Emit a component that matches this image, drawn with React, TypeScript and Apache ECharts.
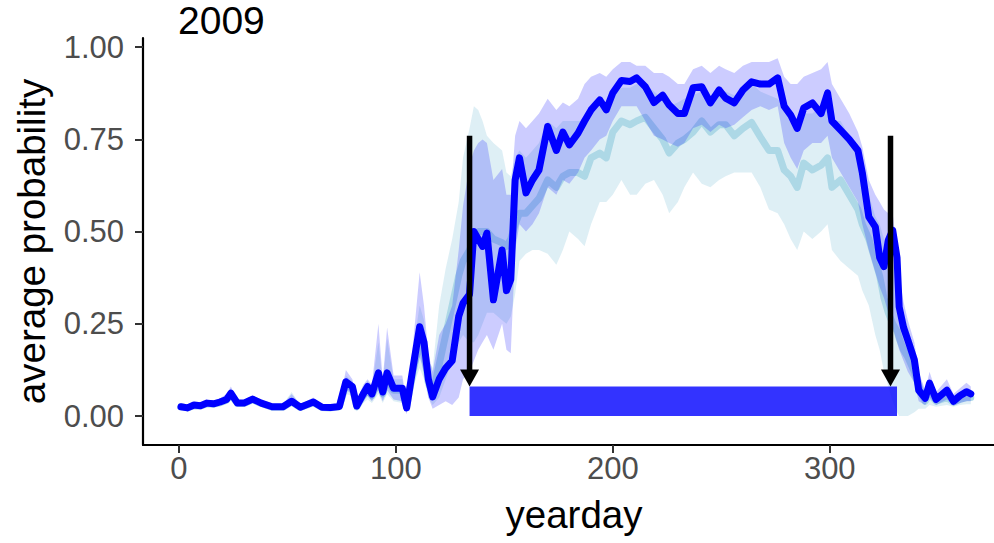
import React, { useEffect, useRef } from "react";
import * as echarts from "echarts";

// ---- data ----
const days = [1, 4, 7, 10, 13, 16, 19, 22, 24, 27, 30, 34, 38, 43, 48, 52, 56, 62, 66, 70, 74, 77, 80, 82, 85, 87, 89, 92, 94, 96, 99, 103, 105, 108, 111, 113, 115, 117, 120, 123, 126, 129, 131, 134, 136, 138, 140, 142, 145, 149, 151, 153, 155, 157, 160, 163, 166, 170, 174, 177, 180, 184, 187, 190, 194, 197, 200, 204, 208, 211, 215, 219, 223, 226, 230, 233, 237, 241, 245, 249, 252, 256, 260, 264, 268, 272, 276, 279, 282, 285, 288, 292, 296, 299, 301, 305, 309, 313, 315, 318, 321, 323, 325, 327, 329, 331, 332, 334, 336, 339, 341, 344, 346, 349, 354, 357, 360, 363, 365];

const blueMean = [0.025, 0.022, 0.03, 0.028, 0.035, 0.033, 0.038, 0.045, 0.062, 0.035, 0.035, 0.046, 0.035, 0.025, 0.025, 0.04, 0.024, 0.038, 0.024, 0.023, 0.026, 0.093, 0.08, 0.027, 0.06, 0.08, 0.06, 0.117, 0.065, 0.117, 0.075, 0.075, 0.022, 0.134, 0.242, 0.2, 0.1, 0.052, 0.1, 0.13, 0.15, 0.27, 0.306, 0.33, 0.5, 0.48, 0.46, 0.496, 0.315, 0.45, 0.34, 0.37, 0.64, 0.7, 0.605, 0.64, 0.667, 0.785, 0.72, 0.77, 0.735, 0.767, 0.8, 0.83, 0.857, 0.83, 0.876, 0.91, 0.907, 0.917, 0.893, 0.85, 0.87, 0.843, 0.82, 0.82, 0.89, 0.893, 0.849, 0.884, 0.862, 0.849, 0.884, 0.906, 0.9, 0.9, 0.917, 0.84, 0.816, 0.78, 0.835, 0.849, 0.82, 0.876, 0.8, 0.775, 0.75, 0.72, 0.66, 0.54, 0.513, 0.43, 0.405, 0.477, 0.504, 0.43, 0.296, 0.24, 0.206, 0.152, 0.07, 0.048, 0.089, 0.045, 0.07, 0.04, 0.055, 0.066, 0.06];
const blueLow = [0.018, 0.015, 0.022, 0.02, 0.026, 0.025, 0.03, 0.035, 0.045, 0.027, 0.028, 0.037, 0.028, 0.018, 0.018, 0.03, 0.017, 0.03, 0.017, 0.016, 0.018, 0.07, 0.06, 0.015, 0.04, 0.055, 0.04, 0.07, 0.04, 0.07, 0.045, 0.04, 0.005, 0.09, 0.16, 0.12, 0.05, 0.02, 0.03, 0.04, 0.03, 0.05, 0.1, 0.12, 0.15, 0.18, 0.2, 0.22, 0.18, 0.25, 0.18, 0.17, 0.45, 0.52, 0.5, 0.52, 0.55, 0.62, 0.6, 0.64, 0.63, 0.66, 0.7, 0.72, 0.75, 0.76, 0.8, 0.84, 0.84, 0.84, 0.8, 0.76, 0.75, 0.74, 0.73, 0.74, 0.78, 0.79, 0.77, 0.79, 0.78, 0.79, 0.81, 0.83, 0.84, 0.83, 0.84, 0.74, 0.7, 0.67, 0.72, 0.74, 0.74, 0.76, 0.7, 0.66, 0.62, 0.58, 0.52, 0.45, 0.39, 0.35, 0.32, 0.28, 0.24, 0.2, 0.18, 0.15, 0.12, 0.09, 0.04, 0.03, 0.05, 0.03, 0.045, 0.027, 0.035, 0.04, 0.04];
const blueHigh = [0.032, 0.03, 0.038, 0.036, 0.044, 0.042, 0.048, 0.06, 0.08, 0.045, 0.043, 0.055, 0.043, 0.032, 0.032, 0.06, 0.031, 0.05, 0.031, 0.03, 0.035, 0.125, 0.1, 0.04, 0.085, 0.1, 0.085, 0.25, 0.1, 0.24, 0.11, 0.11, 0.04, 0.2, 0.39, 0.3, 0.17, 0.12, 0.22, 0.25, 0.3, 0.45, 0.57, 0.68, 0.72, 0.74, 0.75, 0.74, 0.64, 0.67, 0.6, 0.6, 0.76, 0.8, 0.78, 0.8, 0.82, 0.86, 0.83, 0.85, 0.84, 0.86, 0.9, 0.92, 0.93, 0.92, 0.94, 0.96, 0.96, 0.95, 0.95, 0.93, 0.93, 0.92, 0.9, 0.9, 0.94, 0.95, 0.93, 0.95, 0.94, 0.93, 0.95, 0.96, 0.96, 0.96, 0.97, 0.92, 0.9, 0.9, 0.92, 0.93, 0.94, 0.96, 0.9, 0.86, 0.82, 0.77, 0.73, 0.64, 0.6, 0.58, 0.56, 0.55, 0.55, 0.45, 0.38, 0.31, 0.26, 0.2, 0.12, 0.07, 0.12, 0.065, 0.1, 0.06, 0.075, 0.09, 0.08];

const lightMean = [0.025, 0.022, 0.028, 0.027, 0.033, 0.032, 0.036, 0.043, 0.058, 0.034, 0.034, 0.044, 0.034, 0.024, 0.024, 0.038, 0.023, 0.036, 0.023, 0.022, 0.025, 0.085, 0.075, 0.025, 0.055, 0.07, 0.055, 0.1, 0.06, 0.1, 0.07, 0.07, 0.025, 0.12, 0.2, 0.17, 0.09, 0.06, 0.14, 0.22, 0.3, 0.38, 0.42, 0.45, 0.48, 0.5, 0.5, 0.5, 0.48, 0.47, 0.46, 0.48, 0.52, 0.55, 0.55, 0.57, 0.59, 0.64, 0.62, 0.65, 0.66, 0.66, 0.65, 0.7, 0.713, 0.7, 0.77, 0.8, 0.79, 0.8, 0.81, 0.78, 0.75, 0.713, 0.74, 0.75, 0.77, 0.8, 0.77, 0.79, 0.79, 0.76, 0.78, 0.796, 0.757, 0.72, 0.72, 0.667, 0.65, 0.62, 0.686, 0.667, 0.68, 0.7, 0.62, 0.64, 0.6, 0.56, 0.52, 0.48, 0.42, 0.38, 0.32, 0.28, 0.25, 0.23, 0.21, 0.18, 0.16, 0.12, 0.08, 0.04, 0.06, 0.04, 0.05, 0.038, 0.045, 0.05, 0.05];
const lightLow = [0.018, 0.015, 0.02, 0.02, 0.025, 0.024, 0.028, 0.033, 0.042, 0.025, 0.027, 0.035, 0.026, 0.017, 0.017, 0.028, 0.016, 0.028, 0.016, 0.015, 0.017, 0.06, 0.055, 0.012, 0.035, 0.045, 0.035, 0.06, 0.035, 0.06, 0.04, 0.035, 0.01, 0.08, 0.13, 0.1, 0.05, 0.03, 0.05, 0.1, 0.15, 0.2, 0.22, 0.2, 0.2, 0.22, 0.25, 0.28, 0.28, 0.26, 0.25, 0.27, 0.33, 0.42, 0.44, 0.45, 0.45, 0.44, 0.41, 0.45, 0.5, 0.48, 0.46, 0.52, 0.58, 0.58, 0.6, 0.64, 0.6, 0.6, 0.63, 0.64, 0.6, 0.55, 0.58, 0.62, 0.66, 0.63, 0.62, 0.64, 0.65, 0.66, 0.66, 0.66, 0.62, 0.56, 0.55, 0.52, 0.48, 0.45, 0.5, 0.48, 0.5, 0.52, 0.45, 0.42, 0.4, 0.38, 0.34, 0.3, 0.22, 0.18, 0.12, 0.08, 0.04, 0.01, 0.0, 0.0, 0.0, 0.01, 0.02, 0.02, 0.03, 0.025, 0.03, 0.025, 0.03, 0.032, 0.032];
const lightHigh = [0.03, 0.028, 0.035, 0.035, 0.042, 0.04, 0.045, 0.055, 0.075, 0.043, 0.042, 0.053, 0.042, 0.031, 0.031, 0.065, 0.03, 0.048, 0.03, 0.029, 0.033, 0.11, 0.095, 0.04, 0.08, 0.095, 0.08, 0.2, 0.09, 0.21, 0.1, 0.1, 0.045, 0.18, 0.3, 0.26, 0.15, 0.13, 0.3, 0.4, 0.48, 0.58, 0.7, 0.78, 0.84, 0.83, 0.8, 0.76, 0.74, 0.72, 0.66, 0.65, 0.7, 0.72, 0.7, 0.72, 0.74, 0.8, 0.78, 0.8, 0.8, 0.8, 0.8, 0.82, 0.84, 0.84, 0.87, 0.89, 0.89, 0.9, 0.9, 0.88, 0.86, 0.84, 0.85, 0.86, 0.87, 0.88, 0.87, 0.88, 0.88, 0.87, 0.88, 0.9, 0.88, 0.87, 0.86, 0.84, 0.82, 0.8, 0.82, 0.82, 0.84, 0.86, 0.8, 0.8, 0.76, 0.72, 0.66, 0.6, 0.54, 0.52, 0.48, 0.45, 0.42, 0.36, 0.33, 0.28, 0.24, 0.18, 0.12, 0.06, 0.09, 0.06, 0.075, 0.055, 0.065, 0.07, 0.068];

// season window (rectangle) and arrows: [x, yFrom, yTo]
const seasonRect = [[134, 331, 0, 0.08]];
const arrows = [[134, 0.76, 0.08], [328, 0.76, 0.08]];

const xTicks = [0, 100, 200, 300];
const yTicks = [0, 0.25, 0.5, 0.75, 1];

const FONT = "'Liberation Sans', Arial, Helvetica, sans-serif";

function ribbon(lo: number[], hi: number[], color: string, z: number) {
  return {
    type: "custom",
    coordinateSystem: "cartesian2d",
    data: days.map((d, i) => [d, lo[i], hi[i]]),
    encode: { x: 0, y: [1, 2] },
    silent: true,
    z,
    clip: true,
    renderItem: (params: any, api: any) => {
      if (params.dataIndex !== 0) return null;
      const top = days.map((d, i) => api.coord([d, hi[i]]));
      const bottom = days.map((d, i) => api.coord([d, lo[i]])).reverse();
      return {
        type: "polygon",
        shape: { points: top.concat(bottom) },
        style: { fill: color },
      };
    },
  };
}

export default function App() {
  const ref = useRef<HTMLDivElement>(null);
  useEffect(() => {
    if (!ref.current) return;
    const chart = echarts.init(ref.current, null, { renderer: "svg" });
    chart.setOption({
      animation: false,
      backgroundColor: "#ffffff",
      textStyle: { fontFamily: FONT },
      title: {
        text: "2009",
        left: 178,
        top: 1,
        padding: 0,
        textStyle: { fontFamily: FONT, fontSize: 39, fontWeight: "normal", color: "#000" },
      },
      grid: { left: 143, right: 0, top: 38, bottom: 98, containLabel: false },
      xAxis: {
        type: "value",
        min: -16.5,
        max: 375.7,
        name: "yearday",
        nameLocation: "middle",
        nameGap: 50,
        nameTextStyle: { fontFamily: FONT, fontSize: 38.5, color: "#000", padding: [0, 0, 0, 11] },
        axisLine: { onZero: false, lineStyle: { color: "#000", width: 2.2 } },
        axisTick: { show: true, length: 8, customValues: xTicks, lineStyle: { color: "#333", width: 2 } },
        axisLabel: { customValues: xTicks, margin: 8, fontSize: 31, color: "#4D4D4D", fontFamily: FONT },
        splitLine: { show: false },
      },
      yAxis: {
        type: "value",
        min: -0.0786,
        max: 1.025,
        name: "average probability",
        nameLocation: "middle",
        nameRotate: 90,
        nameGap: 92,
        nameTextStyle: { fontFamily: FONT, fontSize: 38.5, color: "#000" },
        axisLine: { onZero: false, lineStyle: { color: "#000", width: 2.2 } },
        axisTick: { show: true, length: 8, customValues: yTicks, lineStyle: { color: "#333", width: 2 } },
        axisLabel: {
          customValues: yTicks,
          margin: 19,
          fontSize: 31,
          color: "#4D4D4D",
          fontFamily: FONT,
          formatter: (v: number) => v.toFixed(2),
        },
        splitLine: { show: false },
      },
      series: [
        ribbon(lightLow, lightHigh, "rgba(173,216,230,0.4)", 1),
        {
          type: "line",
          data: days.map((d, i) => [d, lightMean[i]]),
          showSymbol: false,
          z: 2,
          silent: true,
          lineStyle: { color: "#ADD8E6", width: 7, join: "round", cap: "round" },
        },
        ribbon(blueLow, blueHigh, "rgba(0,0,255,0.2)", 3),
        {
          type: "line",
          data: days.map((d, i) => [d, blueMean[i]]),
          showSymbol: false,
          z: 4,
          silent: true,
          lineStyle: { color: "#0000FF", width: 7, join: "round", cap: "round" },
        },
        {
          type: "custom",
          coordinateSystem: "cartesian2d",
          data: seasonRect,
          encode: { x: [0, 1], y: [2, 3] },
          z: 5,
          silent: true,
          renderItem: (params: any, api: any) => {
            const p0 = api.coord([api.value(0), api.value(3)]);
            const p1 = api.coord([api.value(1), api.value(2)]);
            return {
              type: "rect",
              shape: { x: p0[0], y: p0[1], width: p1[0] - p0[0], height: p1[1] - p0[1] },
              style: { fill: "rgba(0,0,255,0.8)" },
            };
          },
        },
        {
          type: "custom",
          coordinateSystem: "cartesian2d",
          data: arrows,
          encode: { x: 0, y: [1, 2] },
          z: 6,
          silent: true,
          renderItem: (params: any, api: any) => {
            const a = api.coord([api.value(0), api.value(1)]);
            const b = api.coord([api.value(0), api.value(2)]);
            const headH = 17;
            const headW = 9.5;
            return {
              type: "group",
              children: [
                {
                  type: "line",
                  shape: { x1: a[0], y1: a[1], x2: b[0], y2: b[1] - headH + 2 },
                  style: { stroke: "#000", lineWidth: 5.5 },
                },
                {
                  type: "polygon",
                  shape: { points: [[b[0] - headW, b[1] - headH], [b[0] + headW, b[1] - headH], [b[0], b[1]]] },
                  style: { fill: "#000" },
                },
              ],
            };
          },
        },
      ],
    });
    return () => chart.dispose();
  }, []);
  return <div ref={ref} style={{ position: "absolute", left: 0, top: 0, width: 994, height: 543 }} />;
}
